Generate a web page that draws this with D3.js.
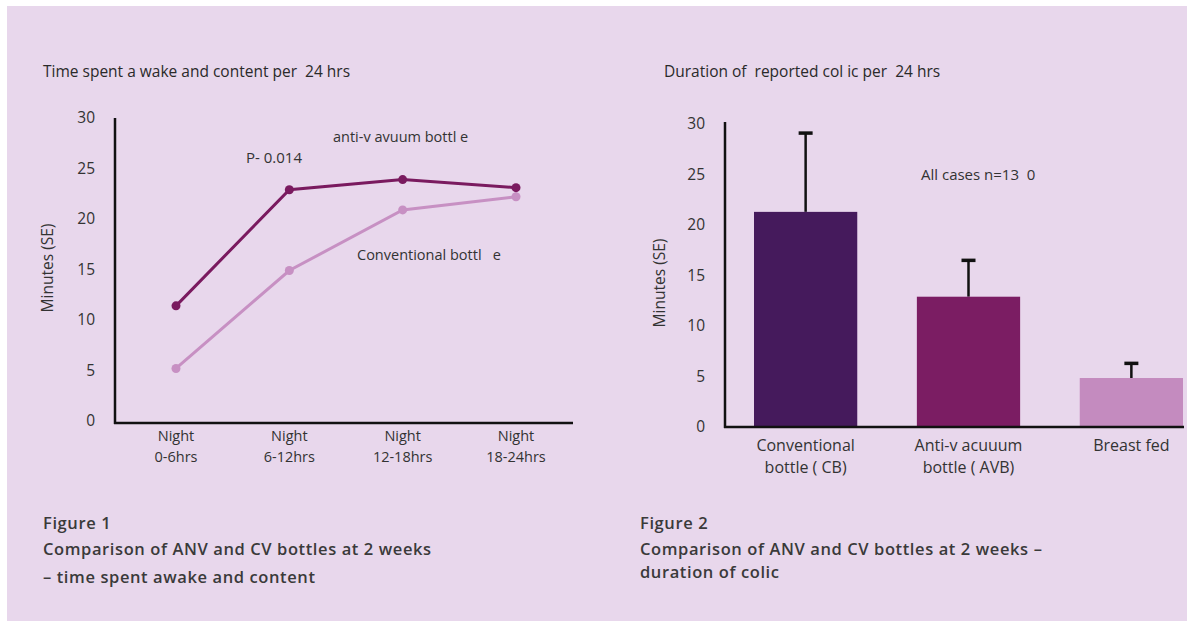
<!DOCTYPE html>
<html><head><meta charset="utf-8">
<script src="https://cdn.jsdelivr.net/npm/d3@7"></script>
<style>
html,body{margin:0;padding:0;background:#fff;}
svg{display:block;font-family:"Open Sans",sans-serif;}
svg text{white-space:pre;}
</style></head>
<body>
<svg id="c" width="1187" height="621"></svg>
<script>
// ---- Data ----
const nightCats = ["Night 0-6hrs", "Night 6-12hrs", "Night 12-18hrs", "Night 18-24hrs"];
const nightLine1 = ["Night", "Night", "Night", "Night"];
const nightLine2 = ["0-6hrs", "6-12hrs", "12-18hrs", "18-24hrs"];
const antiVacuum = [11.4, 22.9, 23.9, 23.1];
const conventional = [5.2, 14.9, 20.9, 22.2];
const yTicks = [0, 5, 10, 15, 20, 25, 30];

const barCats = ["CB", "AVB", "BF"];
const barLine1 = ["Conventional", "Anti-v acuuum", "Breast fed"];
const barLine2 = ["bottle ( CB)", "bottle ( AVB)", ""];
const colicMeans = [21.3, 12.9, 4.85];
const colicUpper = [29.1, 16.5, 6.3];
const barColors = ["#451a5c", "#7b1d63", "#c48bbf"];

const svg = d3.select("#c");
svg.append("rect").attr("x", 7).attr("y", 6).attr("width", 1180).attr("height", 615).attr("fill", "#e8d7ec");

const txt = "#2a2a2a";

// ---- Chart 1 ----
const x1 = d3.scalePoint().domain(nightCats).range([176, 516]);
const y1 = d3.scaleLinear().domain([0, 30]).range([421, 118]);

svg.append("text").attr("x", 43).attr("y", 77).attr("font-size", 15.5).attr("fill", txt)
  .text("Time spent a wake and content per  24 hrs");

const ax1 = svg.append("g").attr("transform", "translate(115,0)")
  .call(d3.axisLeft(y1).tickValues(yTicks).tickSize(0).tickPadding(20));
ax1.select(".domain").remove();
ax1.selectAll("text").attr("font-size", 15.5).attr("fill", "#333").attr("font-family", "Open Sans");
svg.append("line").attr("x1", 115).attr("x2", 115).attr("y1", 118).attr("y2", 424).attr("stroke", "#111").attr("stroke-width", 2.5);
svg.append("line").attr("x1", 114).attr("x2", 573).attr("y1", 423).attr("y2", 423).attr("stroke", "#111").attr("stroke-width", 2.5);

const xl1 = svg.append("g");
nightCats.forEach((c, i) => {
  xl1.append("text").attr("x", x1(c)).attr("y", 441).attr("text-anchor", "middle").attr("font-size", 14.5).attr("fill", "#333").text(nightLine1[i]);
  xl1.append("text").attr("x", x1(c)).attr("y", 462).attr("text-anchor", "middle").attr("font-size", 14.5).attr("fill", "#333").text(nightLine2[i]);
});

svg.append("text").attr("transform", "translate(53,268) rotate(-90)").attr("text-anchor", "middle")
  .attr("font-size", 15.5).attr("fill", "#333").text("Minutes (SE)");

const line = d3.line().x((d, i) => x1(nightCats[i])).y(d => y1(d));
[[conventional, "#c790c3"], [antiVacuum, "#7a1a5f"]].forEach(([vals, col]) => {
  svg.append("path").datum(vals).attr("d", line).attr("fill", "none").attr("stroke", col).attr("stroke-width", 3);
  svg.selectAll(null).data(vals).enter().append("circle")
    .attr("cx", (d, i) => x1(nightCats[i])).attr("cy", d => y1(d)).attr("r", 4.5).attr("fill", col);
});

svg.append("text").attr("x", 333).attr("y", 142).attr("font-size", 14.5).attr("fill", "#333").text("anti-v avuum bottl e");
svg.append("text").attr("x", 246).attr("y", 163).attr("font-size", 15).attr("fill", "#333").text("P- 0.014");
svg.append("text").attr("x", 357).attr("y", 260).attr("font-size", 14.5).attr("fill", "#333").text("Conventional bottl   e");

// ---- Chart 2 ----
const x2 = d3.scaleBand().domain(barCats).range([754, 1183]).paddingInner(0.366).paddingOuter(0);
const y2 = d3.scaleLinear().domain([0, 30]).range([427, 124]);

svg.append("text").attr("x", 664).attr("y", 77).attr("font-size", 15.5).attr("fill", txt)
  .text("Duration of  reported col ic per  24 hrs");

const ax2 = svg.append("g").attr("transform", "translate(725,0)")
  .call(d3.axisLeft(y2).tickValues(yTicks).tickSize(0).tickPadding(20));
ax2.select(".domain").remove();
ax2.selectAll("text").attr("font-size", 15.5).attr("fill", "#333").attr("font-family", "Open Sans");

svg.append("text").attr("transform", "translate(665,283) rotate(-90)").attr("text-anchor", "middle")
  .attr("font-size", 15.5).attr("fill", "#333").text("Minutes (SE)");

// error bars
barCats.forEach((c, i) => {
  const cx = x2(c) + x2.bandwidth() / 2;
  svg.append("line").attr("x1", cx).attr("x2", cx).attr("y1", y2(colicMeans[i])).attr("y2", y2(colicUpper[i]))
    .attr("stroke", "#111").attr("stroke-width", 2.5);
  svg.append("line").attr("x1", cx - 7).attr("x2", cx + 7).attr("y1", y2(colicUpper[i])).attr("y2", y2(colicUpper[i]))
    .attr("stroke", "#111").attr("stroke-width", 3.5);
});
svg.selectAll(null).data(colicMeans).enter().append("rect")
  .attr("x", (d, i) => x2(barCats[i])).attr("width", x2.bandwidth())
  .attr("y", d => y2(d)).attr("height", d => y2(0) - y2(d))
  .attr("fill", (d, i) => barColors[i]);

svg.append("line").attr("x1", 725).attr("x2", 725).attr("y1", 122).attr("y2", 428).attr("stroke", "#111").attr("stroke-width", 2.5);
svg.append("line").attr("x1", 724).attr("x2", 1184).attr("y1", 427).attr("y2", 427).attr("stroke", "#111").attr("stroke-width", 2.5);

barCats.forEach((c, i) => {
  const cx = x2(c) + x2.bandwidth() / 2;
  svg.append("text").attr("x", cx).attr("y", 451).attr("text-anchor", "middle").attr("font-size", 16).attr("fill", "#333").text(barLine1[i]);
  svg.append("text").attr("x", cx).attr("y", 473).attr("text-anchor", "middle").attr("font-size", 16).attr("fill", "#333").text(barLine2[i]);
});

svg.append("text").attr("x", 921).attr("y", 180).attr("font-size", 15).attr("fill", "#333").text("All cases n=13  0");

// ---- Captions ----
const cap = (x, y, t) => svg.append("text").attr("x", x).attr("y", y).attr("font-size", 16.5)
  .attr("font-weight", 600).attr("letter-spacing", 0.6).attr("fill", "#3a3a3a").text(t);
cap(43, 529, "Figure 1");
cap(43, 555, "Comparison of ANV and CV bottles at 2 weeks");
cap(43, 583, "– time spent awake and content");
cap(640, 529, "Figure 2");
cap(640, 555, "Comparison of ANV and CV bottles at 2 weeks –");
cap(640, 578, "duration of colic");
</script>
</body></html>
